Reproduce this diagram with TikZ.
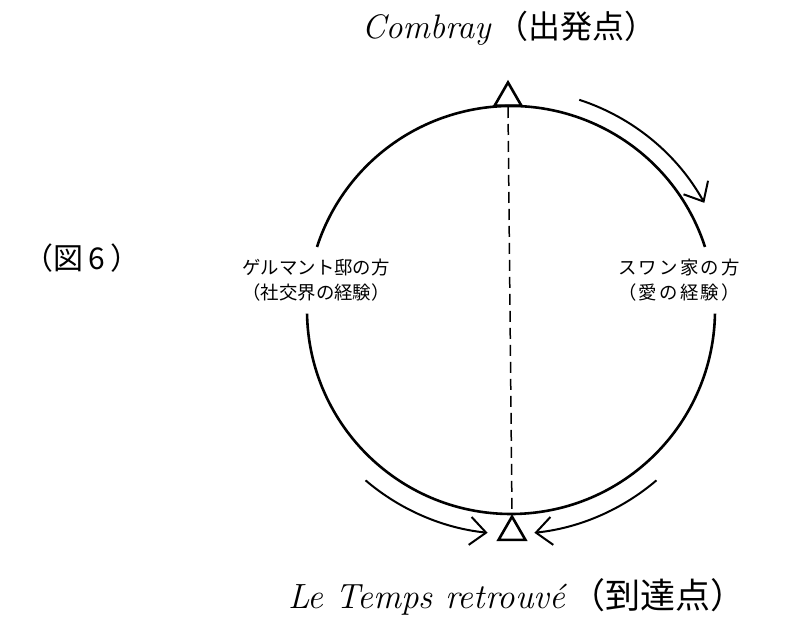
\documentclass[tikz,border=0pt]{standalone}
\usepackage{fontspec}
\newfontfamily\cjk{Noto Sans CJK JP}
\newfontfamily\cjkwide[LetterSpace=12]{Noto Sans CJK JP}
\usetikzlibrary{arrows.meta,shapes.geometric}
\begin{document}
\begin{tikzpicture}[x=1pt,y=1pt,
  ring/.style={line width=2.6pt},
  marker/.style={draw, line width=2.6pt, regular polygon, regular polygon sides=3,
    minimum size=31pt, inner sep=0pt},
  axisline/.style={line width=1.5pt, dash pattern=on 11pt off 6pt},
  flow/.style={line width=2pt, -{Straight Barb[length=16pt,width=28pt,line width=2pt]}},
  labeltext/.style={align=center, font=\fontsize{18.4}{25}\selectfont\cjk},
  labelwide/.style={align=center, font=\fontsize{18.4}{25}\selectfont\cjkwide},
  ]
\useasboundingbox (0,0) rectangle (790,625);
\coordinate (C) at (511,315);
% circle with gaps for labels
\draw[ring] (C) ++(18:204) arc[start angle=18, end angle=162, radius=204];
\draw[ring] (C) ++(181:204) arc[start angle=181, end angle=359, radius=204];
% markers
\node[marker, anchor=side 2] (topTri) at (508,518) {};
\node[marker, anchor=corner 1] (botTri) at (512,111) {};
\draw[axisline] (topTri.side 2) -- (botTri.corner 1);
% flow arrows
\draw[flow] (C) ++(72:221) arc[start angle=72, end angle=29, radius=221];
\draw[flow] (C) ++(-130.5:224) arc[start angle=-130.5, end angle=-96, radius=224];
\draw[flow] (C) ++(-49.5:224) arc[start angle=-49.5, end angle=-84, radius=224];
% labels
\node[labeltext] (left) at (316,345) {ゲルマント邸の方\\（社交界の経験）};
\node[labelwide] (right) at (679,345) {スワン家の方\\（愛の経験）};
\node[font=\fontsize{30}{34}\selectfont\cjk] (fig) at (82,367) {（図\,6\,）};
\node[font=\fontsize{34}{38}\selectfont, anchor=base] (title) at (509,586)
  {{\itshape\addfontfeatures{LetterSpace=7}Combray}\,{\cjk\fontsize{32}{36}\selectfont （出発点）}};
\node[font=\fontsize{35}{40}\selectfont, anchor=base] (bottom) at (517,17)
  {{\itshape\addfontfeatures{LetterSpace=14}Le Temps retrouvé}\,{\cjk\fontsize{35}{40}\selectfont （到達点）}};
\end{tikzpicture}
\end{document}
